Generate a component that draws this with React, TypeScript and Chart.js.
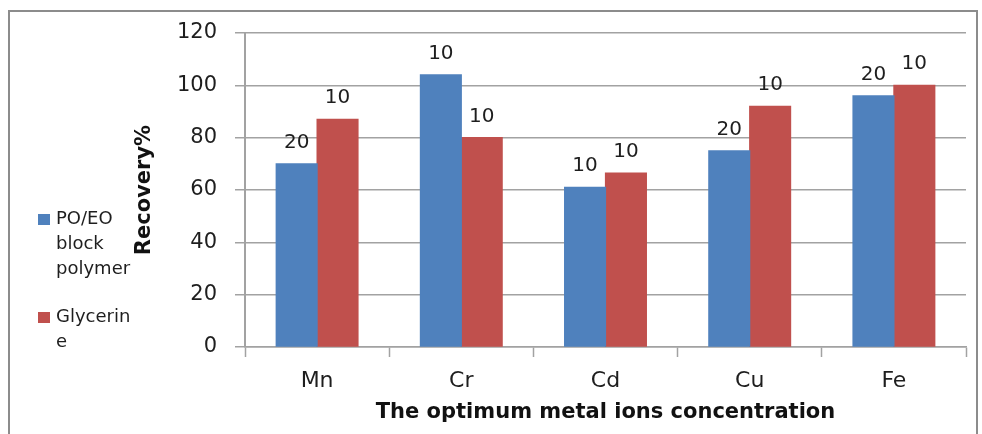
import React, { useEffect, useRef } from "react";
import { Chart, registerables } from "chart.js";

Chart.register(...registerables);

// Recovery (%) of each metal ion for the two extractants
const metals = ["Mn", "Cr", "Cd", "Cu", "Fe"];
const polymerRecovery = [70, 104, 61, 75, 96];
const glycerineRecovery = [87, 80, 66.5, 92, 100];

// Optimum concentration printed above each bar
const polymerConcentration = ["20", "10", "10", "20", "20"];
const glycerineConcentration = ["10", "10", "10", "10", "10"];

const seriesNames = ["PO/EO block polymer", "Glycerine"];
const legendLines = [
  ["PO/EO", "block", "polymer"],
  ["Glycerin", "e"],
];
const seriesColors = ["#4f81bd", "#c0504d"];

const yTicks = [0, 20, 40, 60, 80, 100, 120];
const xTitle = "The optimum metal ions concentration";
const yTitle = "Recovery%";

const FONT = "'DejaVu Sans', 'Open Sans', sans-serif";
const GRID = "#a2a2a2";
const TEXT = "#1e1e1e";

const concentrationLabels = [polymerConcentration, glycerineConcentration];

// Writes the concentration above every bar
const barLabelPlugin = {
  id: "barLabels",
  afterDatasetsDraw(chart: any) {
    const ctx = chart.ctx;
    ctx.save();
    ctx.font = `20px ${FONT}`;
    ctx.fillStyle = TEXT;
    ctx.textAlign = "center";
    ctx.textBaseline = "alphabetic";
    chart.data.datasets.forEach((_ds: any, i: number) => {
      const meta = chart.getDatasetMeta(i);
      meta.data.forEach((bar: any, j: number) => {
        ctx.fillText(concentrationLabels[i][j], bar.x, bar.y - 16);
      });
    });
    ctx.restore();
  },
};

// Narrow legend on the left with wrapped series names
const sideLegendPlugin = {
  id: "sideLegend",
  afterDraw(chart: any) {
    const ctx = chart.ctx;
    ctx.save();
    ctx.font = `18px ${FONT}`;
    ctx.fillStyle = TEXT;
    ctx.textAlign = "left";
    ctx.textBaseline = "middle";
    const starts = [219, 317];
    chart.data.datasets.forEach((ds: any, i: number) => {
      const y0 = starts[i];
      ctx.fillStyle = ds.backgroundColor;
      ctx.fillRect(38, y0 - 5, 12, 11);
      ctx.fillStyle = TEXT;
      legendLines[i].forEach((line, k) => {
        ctx.fillText(line, 56, y0 + k * 25);
      });
    });
    ctx.restore();
  },
};

export default function App() {
  const canvasRef = useRef<HTMLCanvasElement | null>(null);

  useEffect(() => {
    if (!canvasRef.current) return;
    const chart = new Chart(canvasRef.current, {
      type: "bar",
      data: {
        labels: metals,
        datasets: [
          {
            label: seriesNames[0],
            data: polymerRecovery,
            backgroundColor: seriesColors[0],
            borderWidth: 0,
            inflateAmount: 0.6,
          },
          {
            label: seriesNames[1],
            data: glycerineRecovery,
            backgroundColor: seriesColors[1],
            borderWidth: 0,
            inflateAmount: 0.6,
          },
        ],
      },
      options: {
        responsive: false,
        animation: false,
        layout: { padding: { left: 125, right: 16, top: 33, bottom: 0 } },
        datasets: {
          bar: { categoryPercentage: 0.567, barPercentage: 1 },
        },
        plugins: {
          legend: { display: false },
          tooltip: { enabled: false },
        },
        scales: {
          x: {
            afterFit(scale: any) {
              scale.height = 87;
            },
            grid: {
              offset: true,
              drawOnChartArea: false,
              drawTicks: true,
              tickLength: 10,
              tickWidth: 1.5,
              color: GRID,
            },
            border: { display: true, color: GRID, width: 1.5 },
            ticks: {
              color: TEXT,
              padding: 11,
              font: { family: FONT, size: 22 },
            },
            title: {
              display: true,
              text: xTitle,
              color: "#111",
              padding: { top: 4, bottom: 9 },
              font: { family: FONT, size: 21, weight: "bold" },
            },
          },
          y: {
            min: 0,
            max: 120,
            afterFit(scale: any) {
              scale.width = 120;
            },
            afterBuildTicks(scale: any) {
              scale.ticks = yTicks.map((v) => ({ value: v }));
            },
            grid: {
              color: GRID,
              tickLength: 10,
              lineWidth: 1.5,
            },
            border: { display: true, color: GRID, width: 2 },
            ticks: {
              color: TEXT,
              padding: 18,
              font: { family: FONT, size: 21 },
            },
            title: {
              display: true,
              text: yTitle,
              color: "#111",
              padding: { top: 7, bottom: 0 },
              font: { family: FONT, size: 21, weight: "bold" },
            },
          },
        },
      },
      plugins: [barLabelPlugin, sideLegendPlugin],
    });
    return () => chart.destroy();
  }, []);

  return (
    <div
      style={{
        position: "absolute",
        left: 0,
        top: 0,
        width: 982,
        height: 434,
        overflow: "hidden",
        background: "#ffffff",
      }}
    >
      <div
        style={{
          position: "absolute",
          left: 8,
          top: 10,
          width: 966,
          height: 440,
          border: "2px solid #8c8c8c",
        }}
      />
      <canvas
        ref={canvasRef}
        width={982}
        height={434}
        style={{ position: "absolute", left: 0, top: 0, display: "block" }}
      />
    </div>
  );
}
